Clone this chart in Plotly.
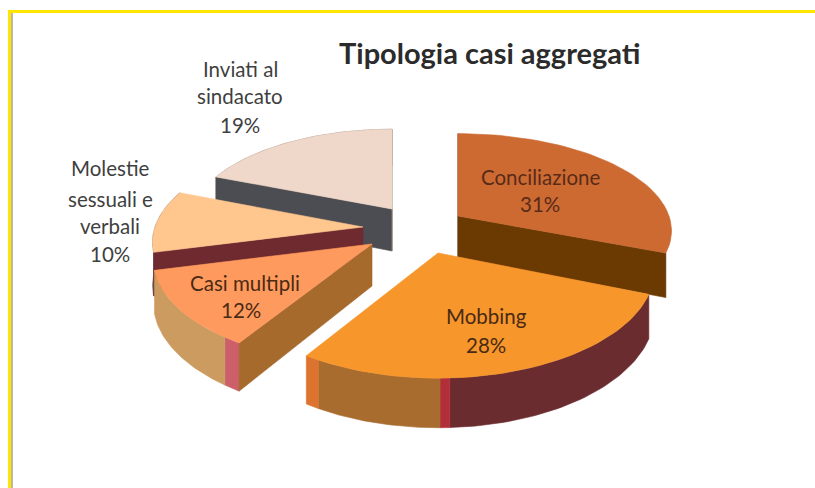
import math
import plotly.graph_objects as go

title = "Tipologia casi aggregati"
categories = ["Conciliazione", "Mobbing", "Casi multipli", "Molestie sessuali e verbali", "Inviati al sindacato"]
values = [31, 28, 12, 10, 19]

# Appearance of the exploded 3D pie (pixel-like axes, y pointing down)
apex = {0: (458, 216), 1: (438, 253), 2: (372, 244), 3: (363, 227), 4: (392, 209)}
depth = {0: 95, 1: 106, 2: 102, 3: 98, 4: 92}
width = {0: 211, 1: 214, 2: 216, 3: 208, 4: 200}
K, H = 0.153, 42
top_colors = ["#CC6A32", "#F7962B", "#FF9A5E", "#FFC68E", "#EFD8CA"]
# outer wall pieces: slice, start fraction, end fraction, colour
outer = [
    (1, 0.0, 0.652, "#6B2C2F"), (1, 0.652, 0.674, "#B22F3A"),
    (1, 0.674, 0.966, "#A86C2E"), (1, 0.966, 1.0, "#DC7430"),
    (2, 0.0, 0.10, "#CC606A"), (2, 0.10, 1.0, "#CC9B60"),
    (3, 0.0, 1.0, "#7A7468"),
    (4, 0.0, 1.0, "#8C7468"),
]
# radial cut walls: slice, which edge (0 start, 1 end), colour
cuts = [
    (0, 0, "#5A3410"), (0, 1, "#6A3A02"),
    (2, 0, "#A66A2C"),
    (3, 0, "#6E2A2F"),
    (4, 0, "#4C4D52"), (4, 1, "#8A7A70"),
]
draw_order = [4, 0, 3, 2, 1]

total = sum(values)
starts, acc = [], 0.0
for v in values:
    starts.append(acc / total * 360)
    acc += v


def project(i, theta, r=1.0):
    a = math.radians(theta)
    X, Y = r * math.sin(a), -r * math.cos(a)
    s = 1 / (1 - K * Y)
    return apex[i][0] + width[i] * X * s, apex[i][1] + depth[i] * Y * s, s


def sweep(i):
    return values[i] / total * 360


def arc(i, f0, f1, n=48):
    return [project(i, starts[i] + sweep(i) * (f0 + (f1 - f0) * t / n)) for t in range(n + 1)]


fig = go.Figure()


def poly(xs, ys, color, name):
    xs, ys = list(xs), list(ys)
    fig.add_trace(go.Scatter(x=xs + xs[:1], y=ys + ys[:1], mode="lines", fill="toself",
                             fillcolor=color, line=dict(color=color, width=0.6),
                             name=name, hoverinfo="name", showlegend=False))


for i in draw_order:
    name = f"{categories[i]} {values[i]}%"
    for sl, f0, f1, col in outer:
        if sl == i:
            p = arc(i, f0, f1)
            poly([q[0] for q in p] + [q[0] for q in reversed(p)],
                 [q[1] for q in p] + [q[1] + H * q[2] for q in reversed(p)], col, name)
    for sl, edge, col in cuts:
        if sl == i:
            e = project(i, starts[i] + sweep(i) * edge)
            ax, ay = apex[i]
            poly([ax, e[0], e[0], ax], [ay, e[1], e[1] + H * e[2], ay + H], col, name)
    p = arc(i, 0, 1)
    poly([apex[i][0]] + [q[0] for q in p], [apex[i][1]] + [q[1] for q in p], top_colors[i], name)

FONT = "Lato, Open Sans, sans-serif"
OUT, IN = "#3F3F3F", "#5A2A18"
label_lines = [
    (categories[0], 540, [177], IN), (f"{values[0]}%", 540, [204], IN),
    (categories[1], 486, [316], "#4A2A14"), (f"{values[1]}%", 486, [345], "#4A2A14"),
    (categories[2], 245, [283], "#4A2A14"), (f"{values[2]}%", 241, [310], "#4A2A14"),
    ("Molestie", 110, [168], OUT), ("sessuali e", 110, [199], OUT), ("verbali", 110, [226], OUT),
    (f"{values[3]}%", 110, [254], OUT),
    ("Inviati al", 240, [69], OUT), ("sindacato", 240, [96], OUT), (f"{values[4]}%", 240, [125], OUT),
]
for text, x, (y,), col in label_lines:
    fig.add_annotation(x=x, y=y, text=text, showarrow=False, xanchor="center", yanchor="middle",
                       font=dict(family=FONT, size=20.5, color=col))
fig.add_annotation(x=490, y=52, text=f"<b>{title}</b>", showarrow=False, xanchor="center",
                   yanchor="middle", font=dict(family=FONT, size=29, color="#2B2B2B"))

fig.update_layout(
    width=815, height=488, margin=dict(l=0, r=0, t=0, b=0), autosize=False,
    paper_bgcolor="white", plot_bgcolor="white",
    xaxis=dict(range=[0, 815], visible=False, fixedrange=True),
    yaxis=dict(range=[488, 0], visible=False, fixedrange=True),
    shapes=[
        dict(type="rect", xref="x", yref="y", x0=8, x1=815, y0=10, y1=13, fillcolor="#FFE600", line_width=0),
        dict(type="rect", xref="x", yref="y", x0=8, x1=11, y0=10, y1=488, fillcolor="#FFE600", line_width=0),
        dict(type="rect", xref="x", yref="y", x0=11, x1=13, y0=13, y1=488, fillcolor="#B8B8A8", line_width=0),
    ],
)
fig.write_html("out.html", config={"displayModeBar": False},
               post_script="document.body.style.margin='0';document.body.style.overflow='hidden';")
